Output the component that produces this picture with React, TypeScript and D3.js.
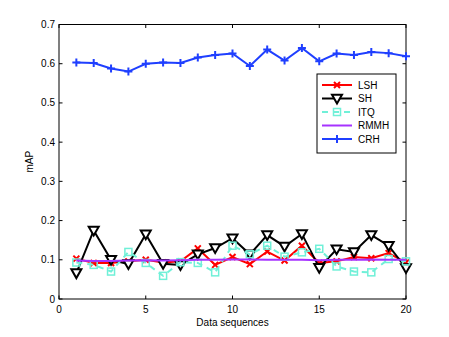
import React from 'react'
import * as d3 from 'd3'

const seq = d3.range(1, 21)
const lsh = [0.103, 0.092, 0.092, 0.096, 0.1, 0.093, 0.096, 0.129, 0.087, 0.107, 0.089, 0.121, 0.098, 0.136, 0.092, 0.096, 0.107, 0.104, 0.117, 0.093]
const sh = [0.066, 0.175, 0.1, 0.089, 0.165, 0.09, 0.087, 0.114, 0.13, 0.155, 0.114, 0.163, 0.134, 0.166, 0.08, 0.127, 0.12, 0.163, 0.136, 0.079]
const itq = [0.093, 0.087, 0.07, 0.12, 0.092, 0.059, 0.094, 0.092, 0.068, 0.136, 0.114, 0.136, 0.108, 0.119, 0.128, 0.083, 0.07, 0.068, 0.102, 0.096]
const rmmh = [0.098, 0.097, 0.097, 0.098, 0.099, 0.098, 0.099, 0.1, 0.1, 0.101, 0.101, 0.1, 0.1, 0.1, 0.099, 0.1, 0.1, 0.101, 0.1, 0.1]
const crh = [0.603, 0.602, 0.588, 0.58, 0.6, 0.603, 0.602, 0.616, 0.622, 0.626, 0.594, 0.636, 0.608, 0.64, 0.606, 0.626, 0.622, 0.63, 0.627, 0.619]

const xTicks = [0, 5, 10, 15, 20]
const yTicks = [0, 0.1, 0.2, 0.3, 0.4, 0.5, 0.6, 0.7]

type Series = { name: string; values: number[]; color: string; marker: string; dash?: string }
const series: Series[] = [
  { name: 'LSH', values: lsh, color: '#ff0000', marker: 'x' },
  { name: 'SH', values: sh, color: '#000000', marker: 'v' },
  { name: 'ITQ', values: itq, color: '#70f0d8', marker: 's', dash: '6,5' },
  { name: 'RMMH', values: rmmh, color: '#a633ff', marker: 'none' },
  { name: 'CRH', values: crh, color: '#1f3fff', marker: '+' },
]

const W = 449
const H = 337
const left = 59, right = 406, top = 24.5, bottom = 299

const font = 'Liberation Sans, Arial, sans-serif'

function Marker({ kind, x, y, color }: { kind: string; x: number; y: number; color: string }) {
  if (kind === 'x') {
    const r = 3
    return <path d={`M${x - r},${y - r}L${x + r},${y + r}M${x - r},${y + r}L${x + r},${y - r}`} stroke={color} strokeWidth={2} />
  }
  if (kind === '+') {
    const r = 4
    return <path d={`M${x - r},${y}L${x + r},${y}M${x},${y - r}L${x},${y + r}`} stroke={color} strokeWidth={2} />
  }
  if (kind === 'v') {
    const r = 5
    return <path d={`M${x - r},${y - r * 0.75}L${x + r},${y - r * 0.75}L${x},${y + r}Z`} fill="white" stroke={color} strokeWidth={2} />
  }
  if (kind === 's') {
    const r = 3.5
    return <rect x={x - r} y={y - r} width={2 * r} height={2 * r} fill="none" stroke={color} strokeWidth={1.5} />
  }
  return null
}

export default function App() {
  const x = d3.scaleLinear().domain([0, 20]).range([left, right])
  const y = d3.scaleLinear().domain([0, 0.7]).range([bottom, top])
  const line = d3.line<number>().x((_, i) => x(seq[i])).y(d => y(d))

  const legX = 317, legY = 74, legW = 79, legH = 79
  const rowH = 13.5

  return (
    <svg width={W} height={H} style={{ position: 'absolute', left: 0, top: 0, background: 'white' }}>
      <rect x={0} y={0} width={W} height={H} fill="white" />
      {/* box */}
      <rect x={left} y={top} width={right - left} height={bottom - top} fill="white" stroke="#000" strokeWidth={1} />
      {xTicks.map(t => (
        <g key={'x' + t}>
          <line x1={x(t)} x2={x(t)} y1={bottom} y2={bottom - 3.5} stroke="#000" />
          <line x1={x(t)} x2={x(t)} y1={top} y2={top + 3.5} stroke="#000" />
          <text x={x(t)} y={bottom + 14} textAnchor="middle" fontFamily={font} fontSize={10}>{t}</text>
        </g>
      ))}
      {yTicks.map(t => (
        <g key={'y' + t}>
          <line x1={left} x2={left + 3.5} y1={y(t)} y2={y(t)} stroke="#000" />
          <line x1={right} x2={right - 3.5} y1={y(t)} y2={y(t)} stroke="#000" />
          <text x={left - 4} y={y(t) + 3.5} textAnchor="end" fontFamily={font} fontSize={10}>{t === 0 ? '0' : d3.format('.1f')(t)}</text>
        </g>
      ))}
      <text x={(left + right) / 2} y={326} textAnchor="middle" fontFamily={font} fontSize={10}>Data sequences</text>
      <text transform={`translate(33,${(top + bottom) / 2}) rotate(-90)`} textAnchor="middle" fontFamily={font} fontSize={10}>mAP</text>

      {series.map(s => (
        <g key={s.name}>
          <path d={line(s.values) || ''} fill="none" stroke={s.color} strokeWidth={2} strokeDasharray={s.dash} />
          {s.values.map((v, i) => (
            <Marker key={i} kind={s.marker} x={x(seq[i])} y={y(v)} color={s.color} />
          ))}
        </g>
      ))}

      {/* legend */}
      <rect x={legX} y={legY} width={legW} height={legH} fill="white" stroke="#000" strokeWidth={1} />
      {series.map((s, i) => {
        const cy = legY + 11 + i * rowH
        return (
          <g key={'l' + s.name}>
            <line x1={legX + 5} x2={legX + 35} y1={cy} y2={cy} stroke={s.color} strokeWidth={2} strokeDasharray={s.dash} />
            <Marker kind={s.marker} x={legX + 20} y={cy} color={s.color} />
            <text x={legX + 41} y={cy + 3.5} fontFamily={font} fontSize={10}>{s.name}</text>
          </g>
        )
      })}
    </svg>
  )
}
